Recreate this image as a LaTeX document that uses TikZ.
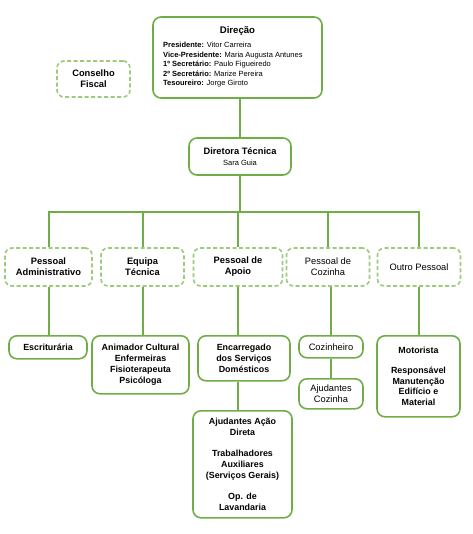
\documentclass[tikz,border=0pt]{standalone}
\usepackage{fontspec}
\setmainfont{Liberation Sans}
\definecolor{gline}{HTML}{70AD47}
\definecolor{gdash}{HTML}{9CCB7C}
\tikzset{
  solidbox/.style={draw=gline, line width=1.6pt, rounded corners=8pt, fill=white, align=center, inner sep=1pt},
  dashbox/.style={draw=gdash, line width=1.6pt, dash pattern=on 4pt off 2.5pt, rounded corners=7pt, fill=white, align=center, inner sep=1pt},
  conn/.style={draw=gline, line width=2pt},
  lab/.style={font=\fontsize{9.3}{11}\selectfont},
  blab/.style={font=\fontsize{9.3}{11}\selectfont\bfseries},
  slab/.style={font=\fontsize{8.9}{10.9}\selectfont\bfseries},
  small/.style={font=\fontsize{7.5}{9.6}\selectfont, inner sep=0pt},
}
\begin{document}
\begin{tikzpicture}[x=1pt,y=-1pt]
\useasboundingbox (0,0) rectangle (472,534);
\fill[white] (0,0) rectangle (472,534);
\coordinate (bar) at (0,212);
% boxes
\node[solidbox, minimum width=169pt, minimum height=81pt] (dir) at (237.5,57.5) {};
\node[blab, inner sep=0pt, font=\fontsize{9.6}{11}\selectfont\bfseries] (dirt) at (237.5,31) {Direção};
\node[small, anchor=base west] (m1) at (163,47.8) {\textbf{Presidente:} Vitor Carreira};
\node[small, anchor=base west] (m2) at (163,57.3) {\textbf{Vice-Presidente:} Maria Augusta Antunes};
\node[small, anchor=base west] (m3) at (163,66.8) {\textbf{1º Secretário:} Paulo Figueiredo};
\node[small, anchor=base west] (m4) at (163,76.3) {\textbf{2º Secretário:} Marize Pereira};
\node[small, anchor=base west] (m5) at (163,85.8) {\textbf{Tesoureiro:} Jorge Giroto};

\node[dashbox, blab, minimum width=73pt, minimum height=36pt] (cf) at (93.5,79) {Conselho\\Fiscal};

\node[solidbox, minimum width=102pt, minimum height=37pt] (dt) at (240,156.5) {};
\node[blab, inner sep=0pt] (dtt) at (240,151) {Diretora Técnica};
\node[small] (dts) at (240,163) {Sara Guia};

\node[dashbox, blab, minimum width=87pt, minimum height=38pt] (pa) at (48.5,267) {Pessoal\\Administrativo};
\node[dashbox, blab, minimum width=83pt, minimum height=38pt] (et) at (142.5,267) {Equipa\\Técnica};
\node[dashbox, blab, minimum width=89pt, minimum height=38pt] (pap) at (238,267) {Pessoal de\\Apoio};
\node[dashbox, lab, minimum width=83pt, minimum height=38pt] (pc) at (328,267) {Pessoal de\\Cozinha};
\node[dashbox, lab, minimum width=83pt, minimum height=38pt] (op) at (419,267) {Outro Pessoal};

% connectors
\draw[conn] (dir.south -| dt.north) -- (dt.north);
\draw[conn] (dt.south) -- (dt.south |- bar);
\draw[conn] (pa.north) |- (bar -| op.north) -- (op.north);
\draw[conn] (et.north) -- (et.north |- bar);
\draw[conn] (pap.north) -- (pap.north |- bar);
\draw[conn] (pc.north) -- (pc.north |- bar);

\node[solidbox, slab, minimum width=78pt, minimum height=23pt, anchor=north] (esc) at (48,335) {Escriturária};
\node[solidbox, slab, minimum width=97pt, minimum height=58pt, anchor=north] (anim) at (140.5,335) {Animador Cultural\\Enfermeiras\\Fisioterapeuta\\Psicóloga};
\node[solidbox, slab, minimum width=92pt, minimum height=45pt, anchor=north] (enc) at (244,335) {Encarregado\\dos Serviços\\Domésticos};
\node[solidbox, slab, minimum width=99pt, minimum height=107pt, anchor=north] (aad) at (242.5,410) {Ajudantes Ação\\Direta\\[10pt]Trabalhadores\\Auxiliares\\(Serviços Gerais)\\[10pt]Op. de\\Lavandaria};
\node[solidbox, lab, minimum width=64pt, minimum height=22pt, anchor=north] (coz) at (331,335) {Cozinheiro};
\node[solidbox, lab, minimum width=64pt, minimum height=30pt, anchor=north] (ajc) at (331,378) {Ajudantes\\Cozinha};
\node[solidbox, slab, minimum width=83pt, minimum height=81pt, anchor=north, font=\fontsize{8.9}{10.5}\selectfont\bfseries] (mot) at (418.5,335) {Motorista\\[10pt]Responsável\\Manutenção\\Edifício e\\Material};

\draw[conn] (pa.south) -- (pa.south |- esc.north);
\draw[conn] (et.south) -- (et.south |- anim.north);
\draw[conn] (pap.south) -- (pap.south |- enc.north);
\draw[conn] (enc.south -| pap.south) -- (pap.south |- aad.north);
\draw[conn] (pc.south -| coz.north) -- (coz.north);
\draw[conn] (coz.south) -- (ajc.north);
\draw[conn] (op.south) -- (op.south |- mot.north);
\end{tikzpicture}
\end{document}
